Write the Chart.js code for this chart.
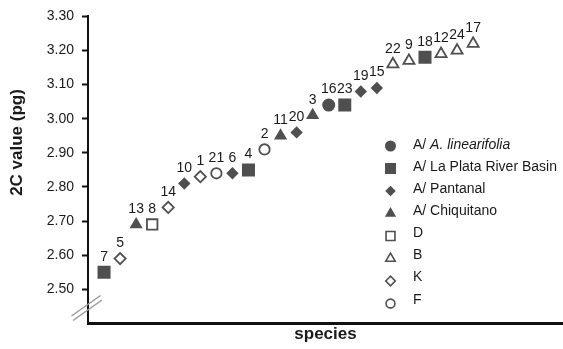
<!DOCTYPE html>
<html>
<head>
<meta charset="utf-8">
<title>2C value by species</title>
<script src="https://cdn.jsdelivr.net/npm/chart.js"></script>
<style>
  html, body { margin: 0; padding: 0; background: #fff; }
  #wrap { width: 563px; height: 349px; position: relative; }
</style>
</head>
<body>
<div id="wrap"><canvas id="cChart"></canvas></div>
<script>
// species numbers, in the order they appear along the x axis
const speciesIds = [7, 5, 13, 8, 14, 10, 1, 21, 6, 4, 2, 11, 20, 3, 16, 23, 19, 15, 22, 9, 18, 12, 24, 17];
// 2C values (pg)
const cValues = [2.55, 2.59, 2.69, 2.69, 2.74, 2.81, 2.83, 2.84, 2.84, 2.85, 2.91, 2.95, 2.96, 3.01, 3.04, 3.04, 3.08, 3.09, 3.16, 3.17, 3.18, 3.19, 3.20, 3.22];
// group of each species (index into groupLabels)
const speciesGroup = [1, 6, 3, 4, 6, 2, 6, 7, 2, 1, 7, 3, 2, 3, 0, 1, 2, 2, 5, 5, 1, 5, 5, 5];
const groupLabels = ['A/ A. linearifolia', 'A/ La Plata River Basin', 'A/ Pantanal', 'A/ Chiquitano', 'D', 'B', 'K', 'F'];
const yMin = 2.40, yMax = 3.30, yStep = 0.10;

const dark = '#4f4f4f';
const groupStyle = [
    { pointStyle: 'circle',   radius: 6.5, filled: true },
    { pointStyle: 'rect',     radius: 9.2, filled: true },
    { pointStyle: 'rectRot',  radius: 6.2, filled: true },
    { pointStyle: 'triangle', radius: 7.6, filled: true },
    { pointStyle: 'rect',     radius: 7.4, filled: false },
    { pointStyle: 'triangle', radius: 6.4, filled: false },
    { pointStyle: 'rectRot',  radius: 5.6, filled: false },
    { pointStyle: 'circle',   radius: 5.2, filled: false }
];

const datasets = groupLabels.map(function (label, g) {
    const st = groupStyle[g];
    const pts = [];
    speciesIds.forEach(function (id, i) {
        if (speciesGroup[i] === g) pts.push({ x: i + 1, y: cValues[i], id: id });
    });
    return {
        label: label,
        data: pts,
        pointStyle: st.pointStyle,
        pointRadius: st.radius,
        pointHoverRadius: st.radius,
        backgroundColor: st.filled ? dark : '#ffffff',
        borderColor: dark,
        pointBorderWidth: st.filled ? 0 : 1.8,
        showLine: false
    };
});

// numbers above each marker
const idLabels = {
    id: 'idLabels',
    afterDatasetsDraw(chart) {
        const ctx = chart.ctx;
        ctx.save();
        ctx.font = '14px "Liberation Sans", Arial, sans-serif';
        ctx.fillStyle = '#1a1a1a';
        ctx.textAlign = 'center';
        ctx.textBaseline = 'middle';
        chart.data.datasets.forEach(function (ds, di) {
            chart.getDatasetMeta(di).data.forEach(function (el, j) {
                ctx.fillText(String(ds.data[j].id), el.x, el.y - 15.5);
            });
        });
        ctx.restore();
    }
};

// y title, axis break and the legend inside the plot
const extras = {
    id: 'extras',
    afterDraw(chart) {
        const ctx = chart.ctx;
        ctx.save();
        // axis break
        ctx.strokeStyle = '#9a9a9a';
        ctx.lineWidth = 1.5;
        ctx.beginPath();
        ctx.moveTo(71.5, 316); ctx.lineTo(100.5, 295.5);
        ctx.moveTo(73, 320.5); ctx.lineTo(102, 300);
        ctx.stroke();

        // y title
        ctx.translate(17.5, 142.5);
        ctx.rotate(-Math.PI / 2);
        ctx.font = 'bold 17px "Liberation Sans", Arial, sans-serif';
        ctx.fillStyle = '#1a1a1a';
        ctx.textAlign = 'center';
        ctx.textBaseline = 'middle';
        ctx.fillText('2C value (pg)', 0, 0);
        ctx.restore();

        // legend
        ctx.save();
        ctx.font = '14px "Liberation Sans", Arial, sans-serif';
        ctx.textBaseline = 'middle';
        ctx.textAlign = 'left';
        groupLabels.forEach(function (label, g) {
            const st = groupStyle[g];
            const ty = 145 + 22.1 * g;
            const my = 146 + 22.5 * g;
            ctx.fillStyle = st.filled ? dark : '#ffffff';
            ctx.strokeStyle = dark;
            ctx.lineWidth = st.filled ? 0 : 1.6;
            const opts = { pointStyle: st.pointStyle, radius: st.radius * 0.85, rotation: 0, borderWidth: st.filled ? 0 : 1.6 };
            Chart.helpers.drawPoint(ctx, opts, 390.5, my);
            ctx.fillStyle = '#1a1a1a';
            if (g === 0) {
                ctx.fillText('A/ ', 413, ty);
                const w = ctx.measureText('A/ ').width;
                ctx.font = 'italic 14px "Liberation Sans", Arial, sans-serif';
                ctx.fillText('A. linearifolia', 413 + w, ty);
                ctx.font = '14px "Liberation Sans", Arial, sans-serif';
            } else {
                ctx.fillText(label, 413, ty);
            }
        });
        ctx.restore();
    }
};

const ctx = document.getElementById('cChart').getContext('2d');
const cChart = new Chart(ctx, {
    type: 'scatter',
    data: { datasets: datasets },
    plugins: [idLabels, extras],
    options: {
        responsive: true,
        maintainAspectRatio: false,
        animation: false,
        layout: { autoPadding: false, padding: { top: 14, right: 0, bottom: 0, left: 0 } },
        plugins: {
            legend: { display: false },
            tooltip: { enabled: false }
        },
        scales: {
            x: {
                type: 'linear',
                min: 0,
                max: 29.6,
                ticks: { display: false },
                grid: { display: true, drawOnChartArea: false, drawTicks: false },
                border: { display: true, color: '#111', width: 3 },
                title: {
                    display: true,
                    text: 'species',
                    color: '#1a1a1a',
                    font: { family: '"Liberation Sans", Arial, sans-serif', size: 17, weight: 'bold' },
                    padding: { top: 0, bottom: 4 }
                },
                afterFit: function (scale) { scale.height = 25.6; }
            },
            y: {
                min: yMin,
                max: yMax,
                ticks: {
                    stepSize: yStep,
                    padding: 8,
                    color: '#1a1a1a',
                    font: { family: '"Liberation Sans", Arial, sans-serif', size: 14 },
                    callback: function (v) { return v < 2.45 ? '' : v.toFixed(2); }
                },
                grid: {
                    drawOnChartArea: false,
                    drawTicks: true,
                    tickLength: 6,
                    tickWidth: 2,
                    tickColor: function (c) { return c.tick && c.tick.value < 2.45 ? 'rgba(0,0,0,0)' : '#111'; }
                },
                border: { display: true, color: '#111', width: 2 },
                afterFit: function (scale) { scale.width = 88; }
            }
        }
    }
});
</script>
</body>
</html>
